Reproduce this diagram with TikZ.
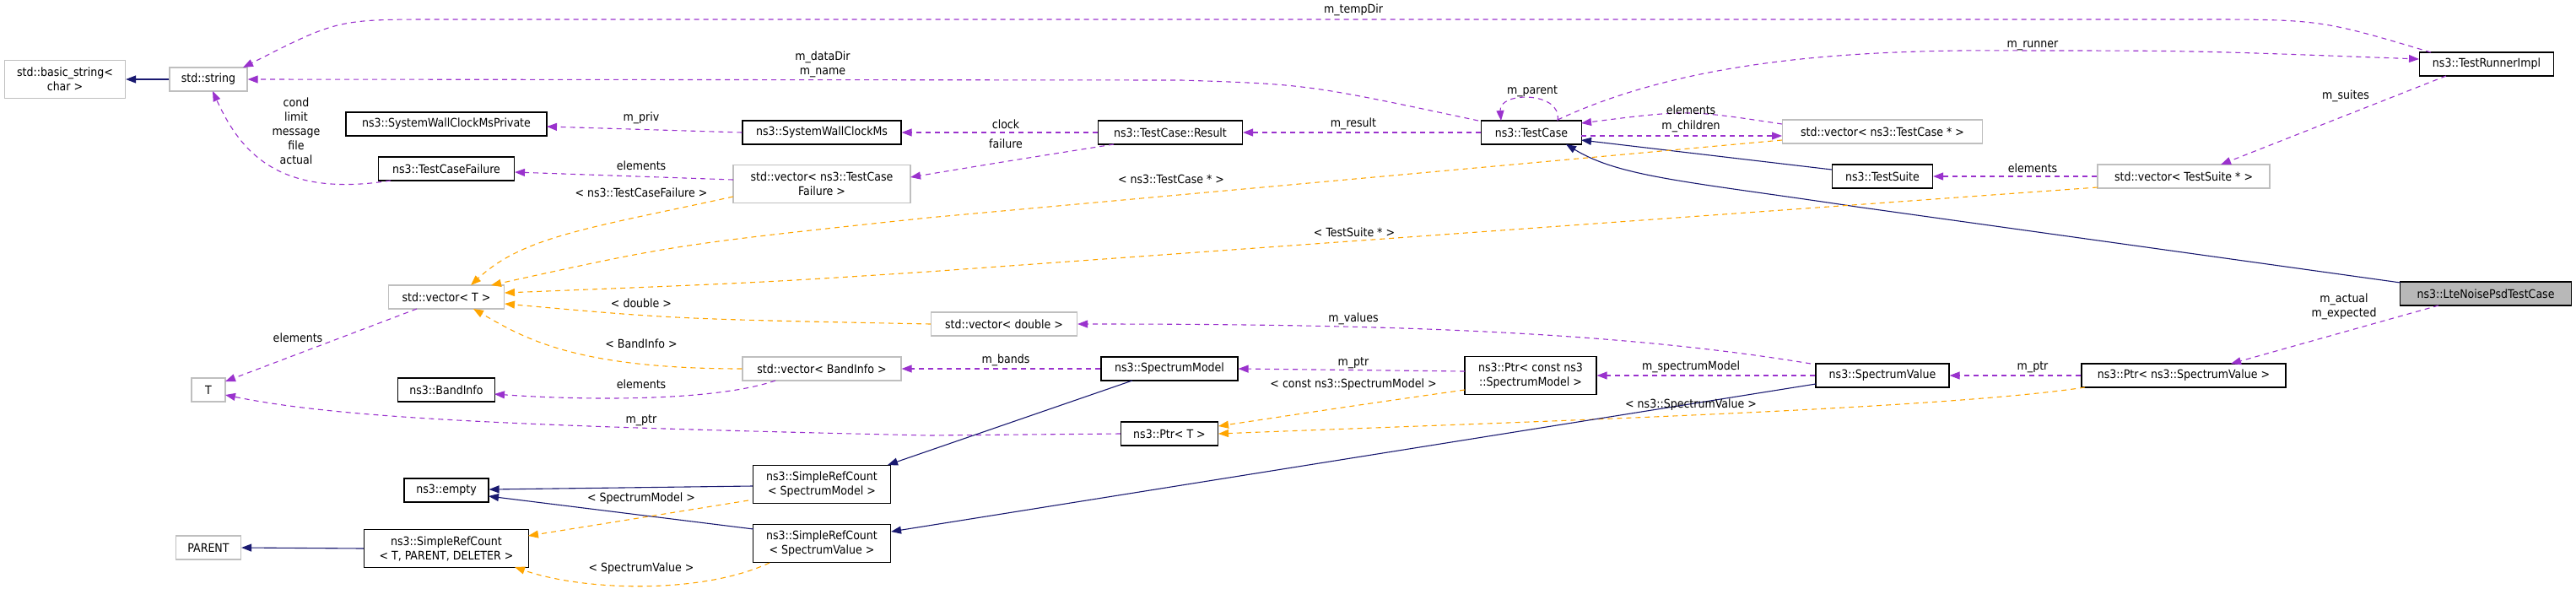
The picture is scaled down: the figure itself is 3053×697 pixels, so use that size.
\documentclass[tikz,border=0pt]{standalone}
\usepackage{fontspec}
\setmainfont{DejaVu Sans Condensed}
\usetikzlibrary{arrows.meta}
\definecolor{pur}{HTML}{9A32CD}
\definecolor{ora}{HTML}{FFA500}
\definecolor{nav}{HTML}{191970}
\definecolor{gbd}{HTML}{BFBFBF}
\begin{document}
\begin{tikzpicture}[x=1pt,y=-1pt,
  every node/.style={font=\fontsize{14}{17}\selectfont, inner sep=0pt, align=center},
  cls/.style={draw=black, line width=1.1pt, fill=white, minimum height=28pt},
  ext/.style={draw=gbd, line width=1.2pt, fill=white, minimum height=28pt},
  mainc/.style={draw=black, line width=1.1pt, fill=black!28, minimum height=28pt},
  tall/.style={minimum height=45pt},
  lbl/.style={fill=none},
  use/.style={draw=pur, line width=1.1pt, dash pattern=on 6pt off 5pt, -{Triangle[length=12pt,width=9pt]}},
  tpl/.style={draw=ora, line width=1.1pt, dash pattern=on 6pt off 5pt, -{Triangle[length=12pt,width=9pt]}},
  inh/.style={draw=nav, line width=1.1pt, -{Triangle[length=12pt,width=9pt]}}]
\useasboundingbox (0,0) rectangle (3053,697);
% nodes
\node[ext,tall,minimum width=143pt] (bs) at (77,94) {std::basic\_string<\\char >};
\node[ext,minimum width=92pt] (str) at (247,94) {std::string};
\node[cls,minimum width=238pt] (swp) at (529,147) {ns3::SystemWallClockMsPrivate};
\node[cls,minimum width=188pt] (sw) at (974,157) {ns3::SystemWallClockMs};
\node[cls,minimum width=161pt] (tcf) at (529,200) {ns3::TestCaseFailure};
\node[ext,tall,minimum width=210pt] (vtcf) at (974,218) {std::vector< ns3::TestCase\\Failure >};
\node[ext,minimum width=137pt] (vt) at (529,352) {std::vector< T >};
\node[ext,minimum width=40pt] (T) at (247,462) {T};
\node[cls,minimum width=115pt] (bi) at (529,462) {ns3::BandInfo};
\node[ext,minimum width=188pt] (vbi) at (974,437) {std::vector< BandInfo >};
\node[cls,minimum width=100pt] (emp) at (529,581) {ns3::empty};
\node[cls,tall,minimum width=163pt] (srcsm) at (974,574) {ns3::SimpleRefCount\\< SpectrumModel >};
\node[ext,minimum width=77pt] (par) at (247,649) {PARENT};
\node[cls,tall,minimum width=195pt] (srctpd) at (529,650) {ns3::SimpleRefCount\\< T, PARENT, DELETER >};
\node[cls,tall,minimum width=163pt] (srcsv) at (974,644) {ns3::SimpleRefCount\\< SpectrumValue >};
\node[cls,minimum width=171pt] (res) at (1387,157) {ns3::TestCase::Result};
\node[cls,minimum width=119pt] (tc) at (1815,157) {ns3::TestCase};
\node[ext,minimum width=173pt] (vd) at (1190,384) {std::vector< double >};
\node[cls,minimum width=162pt] (sm) at (1386,437) {ns3::SpectrumModel};
\node[cls,tall,minimum width=156pt] (pcsm) at (1814,445) {ns3::Ptr< const ns3\\::SpectrumModel >};
\node[cls,minimum width=115pt] (pt) at (1386,514) {ns3::Ptr< T >};
\node[ext,minimum width=237pt] (vtc) at (2231,156) {std::vector< ns3::TestCase * >};
\node[cls,minimum width=159pt] (tri) at (2947,76) {ns3::TestRunnerImpl};
\node[cls,minimum width=119pt] (ts) at (2231,209) {ns3::TestSuite};
\node[ext,minimum width=204pt] (vts) at (2588,209) {std::vector< TestSuite * >};
\node[mainc,minimum width=203pt] (lnp) at (2946,348) {ns3::LteNoisePsdTestCase};
\node[cls,minimum width=158pt] (sv) at (2231,445) {ns3::SpectrumValue};
\node[cls,minimum width=242pt] (psv) at (2588,445) {ns3::Ptr< ns3::SpectrumValue >};
% edges
\draw[use] ([shift={(-66,-14)}]tri.center) .. controls (2750,23) .. (2600,23) -- (520,23) .. controls (400,23) .. ([shift={(41,-14)}]str.center);
\draw[use] ([shift={(-63,-14)}]tc.center) .. controls (1550,100) .. (1400,95) -- (str.east);
\draw[use] ([shift={(-66,14)}]tcf.center) .. controls (330,235) and (285,180) .. ([shift={(5,14)}]str.center);
\draw[inh] (str.west) -- (bs.east);
\draw[use] (sw.west) -- ([shift={(119,3)}]swp.center);
\draw[use] (res.west) -- (sw.east);
\draw[use] ([shift={(-67,14)}]res.center) .. controls (1200,190) .. ([shift={(105,-8)}]vtcf.center);
\draw[use] ([shift={(-105,-5)}]vtcf.center) -- ([shift={(0,4)}]tcf.east);
\draw[use] (tc.west) -- (res.east);
\draw[use] ([shift={(31,-14)}]tc.center) .. controls (1852,108) and (1776,108) .. ([shift={(-36,-14)}]tc.center);
\draw[use] ([shift={(-119,-9)}]vtc.center) .. controls (2000,130) .. ([shift={(59,-11)}]tc.center);
\draw[use] ([shift={(59,4)}]tc.center) -- ([shift={(-119,5)}]vtc.center);
\draw[use] ([shift={(31,-15)}]tc.center) .. controls (2000,70) and (2200,58) .. (2400,60) .. controls (2600,60) .. ([shift={(-80,-6)}]tri.center);
\draw[use] ([shift={(-48,14)}]tri.center) -- ([shift={(44,-14)}]vts.center);
\draw[use] (vts.west) -- (ts.east);
\draw[inh] ([shift={(-60,-8)}]ts.center) -- ([shift={(59,9)}]tc.center);
\draw[inh] ([shift={(-101,-13)}]lnp.center) -- (2200,245) .. controls (2000,215) and (1920,210) .. ([shift={(41,14)}]tc.center);
\draw[tpl] ([shift={(-105,15)}]vtcf.center) .. controls (700,270) and (620,280) .. ([shift={(29,-14)}]vt.center);
\draw[tpl] ([shift={(-119,10)}]vtc.center) -- (1100,258) .. controls (800,290) .. ([shift={(53,-14)}]vt.center);
\draw[tpl] ([shift={(-102,13)}]vts.center) -- (1100,322) .. controls (900,335) .. ([shift={(69,-5)}]vt.center);
\draw[tpl] (vd.west) .. controls (800,378) .. ([shift={(69,8)}]vt.center);
\draw[tpl] (vbi.west) .. controls (680,437) and (620,400) .. ([shift={(32,14)}]vt.center);
\draw[use] ([shift={(-35,14)}]vt.center) -- ([shift={(20,-10)}]T.center);
\draw[use] ([shift={(-55,14)}]vbi.center) .. controls (850,475) and (700,475) .. ([shift={(57,5)}]bi.center);
\draw[use] (sm.west) -- (vbi.east);
\draw[use] (pt.west) -- (1100,516) .. controls (600,505) and (400,495) .. ([shift={(20,6)}]T.center);
\draw[use] ([shift={(-78,-5)}]pcsm.center) -- (sm.east);
\draw[tpl] ([shift={(-78,17)}]pcsm.center) .. controls (1610,480) .. ([shift={(58,-9)}]pt.center);
\draw[tpl] ([shift={(-117,14)}]psv.center) .. controls (2300,485) and (1800,500) .. ([shift={(58,0)}]pt.center);
\draw[use] (sv.west) -- (pcsm.east);
\draw[use] (psv.west) -- (sv.east);
\draw[use] ([shift={(-85,-14)}]sv.center) .. controls (1900,390) and (1600,384) .. (vd.east);
\draw[inh] ([shift={(-44,14)}]sm.center) -- ([shift={(78,-23)}]srcsm.center);
\draw[inh] ([shift={(-79,10)}]sv.center) -- ([shift={(0,-14)}]srcsv.east);
\draw[inh] ([shift={(0,2)}]srcsm.west) -- ([shift={(0,-1)}]emp.east);
\draw[inh] ([shift={(-81,-17)}]srcsv.center) -- ([shift={(50,7)}]emp.center);
\draw[inh] (srctpd.west) -- (par.east);
\draw[tpl] ([shift={(-87,19)}]srcsm.center) -- ([shift={(97,-15)}]srctpd.center);
\draw[tpl] ([shift={(-62,23)}]srcsv.center) .. controls (830,705) and (690,700) .. ([shift={(81,22)}]srctpd.center);
\draw[use] ([shift={(-56,14)}]lnp.center) -- ([shift={(56,-14)}]psv.center);
% labels
\node[lbl] (l1) at (1604,12) {m\_tempDir};
\node[lbl] (l2) at (2409,54) {m\_runner};
\node[lbl] (l3) at (975,76) {m\_dataDir\\m\_name};
\node[lbl] (l4) at (351,155) {cond\\limit\\message\\file\\actual};
\node[lbl] (l5) at (760,140) {m\_priv};
\node[lbl] (l6) at (760,196) {elements};
\node[lbl] (l7) at (760,228) {< ns3::TestCaseFailure >};
\node[lbl] (l8) at (1192,147) {clock};
\node[lbl] (l9) at (1192,170) {failure};
\node[lbl] (l10) at (1604,147) {m\_result};
\node[lbl] (l11) at (1816,108) {m\_parent};
\node[lbl] (l12) at (2004,130) {elements};
\node[lbl] (l13) at (2004,150) {m\_children};
\node[lbl] (l14) at (1388,212) {< ns3::TestCase * >};
\node[lbl] (l15) at (1605,275) {< TestSuite * >};
\node[lbl] (l16) at (2780,114) {m\_suites};
\node[lbl] (l17) at (2409,199) {elements};
\node[lbl] (l18) at (2778,363) {m\_actual\\m\_expected};
\node[lbl] (l19) at (2409,435) {m\_ptr};
\node[lbl] (l20) at (760,359) {< double >};
\node[lbl] (l21) at (760,407) {< BandInfo >};
\node[lbl] (l22) at (353,400) {elements};
\node[lbl] (l23) at (760,455) {elements};
\node[lbl] (l24) at (760,498) {m\_ptr};
\node[lbl] (l25) at (760,591) {< SpectrumModel >};
\node[lbl] (l26) at (760,674) {< SpectrumValue >};
\node[lbl] (l27) at (1604,378) {m\_values};
\node[lbl] (l28) at (1192,427) {m\_bands};
\node[lbl] (l29) at (1604,430) {m\_ptr};
\node[lbl] (l30) at (1604,456) {< const ns3::SpectrumModel >};
\node[lbl] (l31) at (2004,435) {m\_spectrumModel};
\node[lbl] (l32) at (2004,480) {< ns3::SpectrumValue >};
\end{tikzpicture}
\end{document}
